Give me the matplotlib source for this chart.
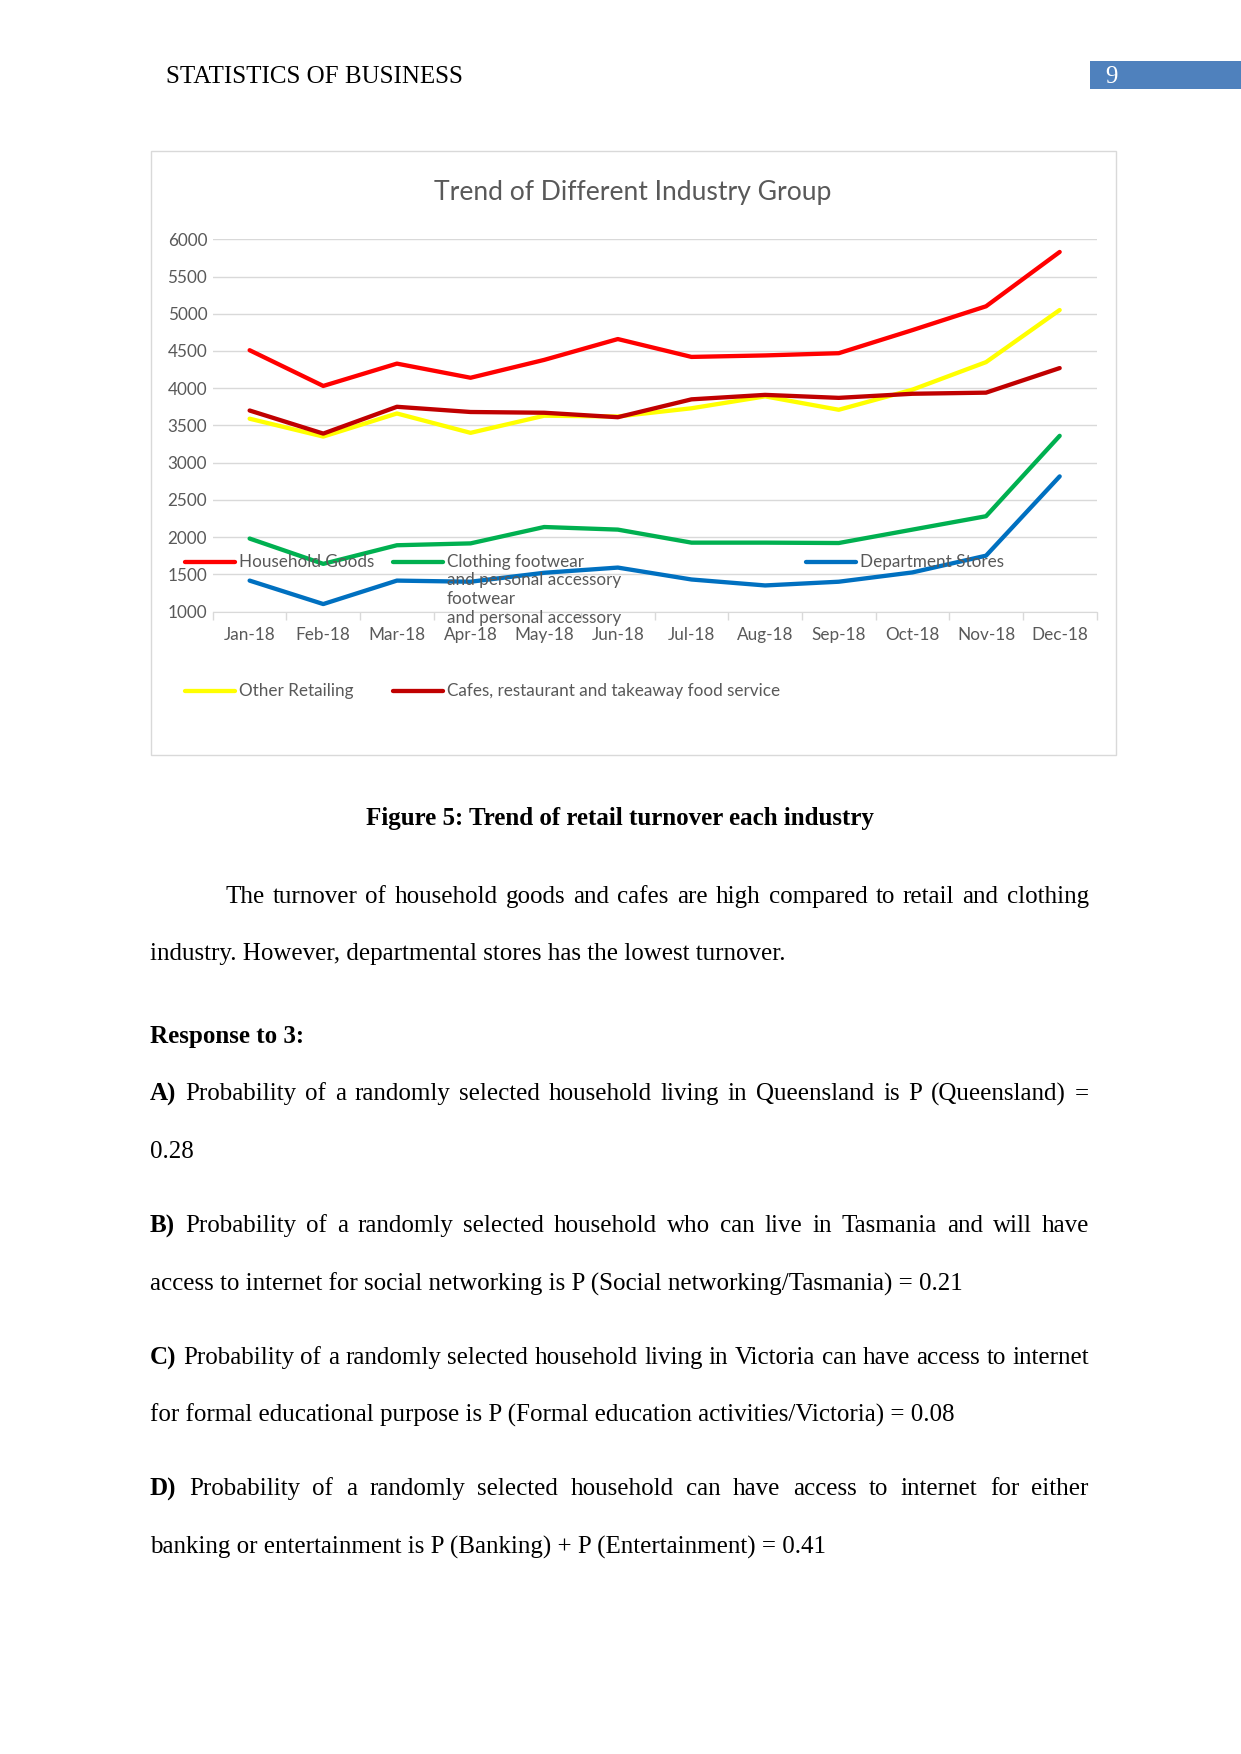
import matplotlib.pyplot as plt
from matplotlib.lines import Line2D
from matplotlib.patches import Rectangle

# page size in pixels
W, H = 1241, 1754

months = ["Jan-18", "Feb-18", "Mar-18", "Apr-18", "May-18", "Jun-18",
          "Jul-18", "Aug-18", "Sep-18", "Oct-18", "Nov-18", "Dec-18"]

household_goods = [4510, 4030, 4330, 4140, 4380, 4660, 4420, 4440, 4470, 4780, 5100, 5830]
clothing = [1980, 1640, 1890, 1915, 2135, 2100, 1925, 1925, 1920, 2100, 2280, 3360]
department_stores = [1415, 1100, 1415, 1400, 1520, 1590, 1430, 1350, 1400, 1525, 1750, 2815]
other_retailing = [3590, 3350, 3660, 3400, 3630, 3620, 3730, 3890, 3710, 3980, 4350, 5050]
cafes = [3700, 3390, 3750, 3680, 3670, 3610, 3850, 3910, 3870, 3925, 3940, 4270]

series_names = ["Household Goods",
                "Clothing footwear\nand personal accessory\nfootwear\nand personal accessory",
                "Department Stores", "Other Retailing",
                "Cafes, restaurant and takeaway food service"]
series_values = [household_goods, clothing, department_stores, other_retailing, cafes]
series_colors = ["#FF0000", "#00B050", "#0070C0", "#FFFF00", "#C00000"]

GREY = "#595959"
GRID = "#D9D9D9"
CHART_FONT = "Lato"
PAGE_FONT = "Liberation Serif"
CHART_FS = 12.3
LW = 3.1


def fx(x):
    return x / W


def fy(y):
    return 1 - y / H


fig = plt.figure(figsize=(W / 100, H / 100), dpi=100)

# chart frame
fig.add_artist(Rectangle((fx(151), fy(755)), (1116 - 151) / W, (755 - 151) / H,
                         transform=fig.transFigure, fill=False, edgecolor=GRID, lw=1))

ax = fig.add_axes([fx(212.8), fy(611.5), (1096.5 - 212.8) / W, (611.5 - 239.3) / H])
x = list(range(len(months)))
for i in range(len(series_values)):
    ax.plot(x, series_values[i], color=series_colors[i], lw=LW,
            solid_joinstyle="round", solid_capstyle="round", zorder=3 + i)

ax.set_xlim(-0.5, 11.5)
ax.set_ylim(1000, 6000)
ax.set_yticks(range(1000, 6001, 500))
ax.set_xticks(x)
ax.set_xticklabels(months)
ax.set_xticks([i - 0.5 for i in range(13)], minor=True)
ax.tick_params(axis="x", which="major", length=0, pad=11, labelcolor=GREY, labelsize=CHART_FS)
ax.tick_params(axis="x", which="minor", length=5.8, color=GRID, width=1)
ax.tick_params(axis="y", length=0, pad=4, labelcolor=GREY, labelsize=CHART_FS)
for lab in ax.get_xticklabels() + ax.get_yticklabels():
    lab.set_family(CHART_FONT)
ax.grid(axis="y", color=GRID, lw=1)
ax.set_axisbelow(True)
for s in ["top", "right", "left"]:
    ax.spines[s].set_visible(False)
ax.spines["bottom"].set_color(GRID)
ax.spines["bottom"].set_zorder(2.5)

fig.text(fx(633), fy(192.5), "Trend of Different Industry Group", ha="center", va="center",
         fontsize=19.1, color=GREY, family=CHART_FONT)

# legend, laid out like the Excel one
leg_pos = [(185, 561.7), (392.7, 561.7), (806, 561.7), (185, 690.7), (392.7, 690.7)]
for (lx, ly), name, col in zip(leg_pos, series_names, series_colors):
    fig.add_artist(Line2D([fx(lx), fx(lx + 50)], [fy(ly), fy(ly)], transform=fig.transFigure,
                          color=col, lw=LW, solid_capstyle="round", zorder=10))
    for k, line in enumerate(name.split("\n")):
        fig.text(fx(lx + 54), fy(ly + k * 18.7), line, ha="left", va="center",
                 fontsize=CHART_FS, color=GREY, family=CHART_FONT, zorder=11)

# page header
fig.text(fx(165.6), fy(83.3), "STATISTICS OF BUSINESS", ha="left", va="baseline",
         fontsize=18, family=PAGE_FONT)
fig.add_artist(Rectangle((fx(1090), fy(89.3)), (1241 - 1090) / W, (89.3 - 61) / H,
                         transform=fig.transFigure, color="#4F81BD", lw=0))
fig.text(fx(1105.7), fy(77), "9", ha="left", va="center", fontsize=18, color="white",
         family=PAGE_FONT)

fig.text(fx(619.5), fy(824.9), "Figure 5: Trend of retail turnover each industry", ha="center",
         va="baseline", fontsize=18, fontweight="bold", family=PAGE_FONT)

renderer = fig.canvas.get_renderer()


def justify(y, words, x0, x1):
    texts = []
    for w, bold in words:
        t = fig.text(0, fy(y), w, ha="left", va="baseline", fontsize=18, family=PAGE_FONT,
                     fontweight="bold" if bold else "normal")
        texts.append(t)
    widths = [t.get_window_extent(renderer).width for t in texts]
    gap = (x1 - x0 - sum(widths)) / (len(texts) - 1)
    pos = x0
    for t, w in zip(texts, widths):
        t.set_x(fx(pos))
        pos += w + gap


def plain(y, s, x0=150, bold=False):
    fig.text(fx(x0), fy(y), s, ha="left", va="baseline", fontsize=18, family=PAGE_FONT,
             fontweight="bold" if bold else "normal")


def words_of(s, bold_first=False):
    ws = s.split(" ")
    return [(w, bold_first and i == 0) for i, w in enumerate(ws)]


R = 1088.8
justify(903.2, words_of("The turnover of household goods and cafes are high compared to retail and clothing"), 225, R)
plain(960.3, "industry. However, departmental stores has the lowest turnover.")
plain(1043.1, "Response to 3:", bold=True)
justify(1100.1, words_of("A) Probability of a randomly selected household living in Queensland is P (Queensland) =", True), 150, R)
plain(1158.3, "0.28")
justify(1232.2, words_of("B) Probability of a randomly selected household who can live in Tasmania and will have", True), 150, R)
plain(1290.4, "access to internet for social networking is P (Social networking/Tasmania) = 0.21")
justify(1364.2, words_of("C) Probability of a randomly selected household living in Victoria can have access to internet", True), 150, R)
plain(1421.3, "for formal educational purpose is P (Formal education activities/Victoria) = 0.08")
justify(1495.2, words_of("D) Probability of a randomly selected household can have access to internet for either", True), 150, R)
plain(1553.3, "banking or entertainment is P (Banking) + P (Entertainment) = 0.41")

fig.savefig("out.png", dpi=100)
